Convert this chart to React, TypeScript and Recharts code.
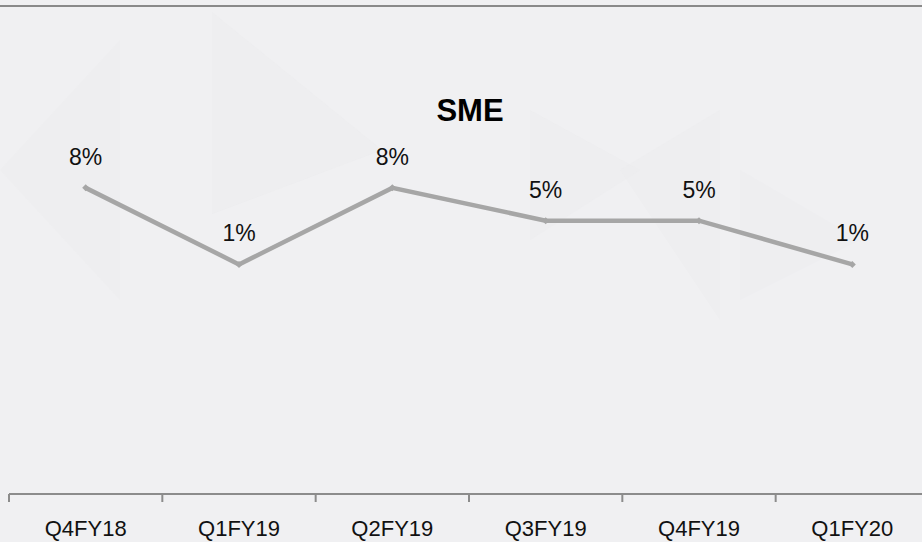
import React from 'react';
import { LineChart, Line, XAxis, YAxis, LabelList } from 'recharts';

const quarters = ['Q4FY18', 'Q1FY19', 'Q2FY19', 'Q3FY19', 'Q4FY19', 'Q1FY20'];
const smeGrowth = [8, 1, 8, 5, 5, 1];

const data = quarters.map((q, i) => ({ quarter: q, sme: smeGrowth[i] }));

const CHART_W = 940;
const CHART_H = 542;
const MARGIN = { top: 166, right: 11, bottom: 18, left: 9 };
const BAND = (CHART_W - MARGIN.left - MARGIN.right) / quarters.length;

const FONT = '"Liberation Sans", Arial, sans-serif';

function QuarterTick(props: any) {
  const { x, y, payload, index } = props;
  const last = index === quarters.length - 1;
  return (
    <g>
      <line x1={x - BAND / 2} x2={x - BAND / 2} y1={y - 8} y2={y} stroke="#8c8c8c" strokeWidth={2} />
      {last && (
        <line x1={x + BAND / 2} x2={x + BAND / 2} y1={y - 8} y2={y} stroke="#8c8c8c" strokeWidth={2} />
      )}
      <text x={x} y={y + 34} textAnchor="middle" fontSize={22} fontFamily={FONT} fill="#111">
        {payload.value}
      </text>
    </g>
  );
}

function Diamond(props: any) {
  const { cx, cy, index } = props;
  return (
    <path
      key={`d-${index}`}
      d={`M${cx - 3.5},${cy} L${cx},${cy - 3.5} L${cx + 3.5},${cy} L${cx},${cy + 3.5} Z`}
      fill="#a6a6a6"
    />
  );
}

export default function App() {
  return (
    <div
      style={{
        position: 'absolute',
        left: 0,
        top: 0,
        width: 922,
        height: 542,
        overflow: 'hidden',
        background: '#f0f0f2',
      }}
    >
      {/* faint watermark shapes */}
      <svg width={922} height={542} style={{ position: 'absolute', left: 0, top: 0 }}>
        <polygon points="0,170 120,40 120,300" fill="#ececee" opacity={0.6} />
        <polygon points="212,12 382,150 212,214" fill="#ececee" opacity={0.5} />
        <polygon points="530,110 640,170 530,240" fill="#ececee" opacity={0.5} />
        <polygon points="620,170 720,110 720,320" fill="#ececee" opacity={0.5} />
        <polygon points="740,170 860,240 740,300" fill="#ececee" opacity={0.4} />
        <line x1={0} x2={922} y1={6} y2={6} stroke="#8a8a8a" strokeWidth={2} />
      </svg>
      <div
        style={{
          position: 'absolute',
          left: 0,
          width: 940,
          top: 93,
          textAlign: 'center',
          fontFamily: FONT,
          fontWeight: 'bold',
          fontSize: 31,
          color: '#000',
        }}
      >
        SME
      </div>
      <div style={{ position: 'absolute', left: 0, top: 0 }}>
        <LineChart width={CHART_W} height={CHART_H} data={data} margin={MARGIN}>
          <XAxis
            dataKey="quarter"
            axisLine={{ stroke: '#8c8c8c', strokeWidth: 2 }}
            tickLine={false}
            tickSize={8}
            tickMargin={0}
            height={30}
            padding={{ left: BAND / 2, right: BAND / 2 }}
            tick={<QuarterTick />}
            interval={0}
          />
          <YAxis hide domain={[-20, 10]} allowDataOverflow />
          <Line
            type="linear"
            dataKey="sme"
            stroke="#a6a6a6"
            strokeWidth={4.5}
            dot={<Diamond />}
            activeDot={false}
            isAnimationActive={false}
          >
            <LabelList
              dataKey="sme"
              position="top"
              offset={23}
              formatter={(v: any) => `${v}%`}
              style={{ fontSize: 23, fontFamily: FONT, fill: '#111' }}
            />
          </Line>
        </LineChart>
      </div>
    </div>
  );
}
